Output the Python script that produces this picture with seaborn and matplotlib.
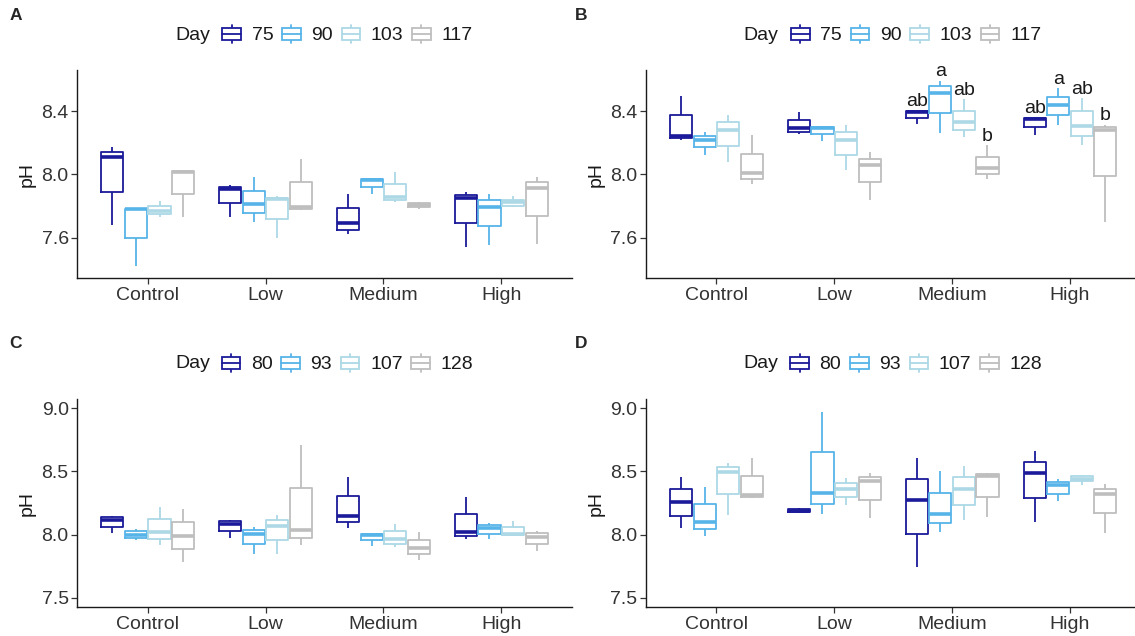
import numpy as np
import pandas as pd
import matplotlib
matplotlib.use("Agg")
import matplotlib.pyplot as plt
import seaborn as sns
from matplotlib.legend_handler import HandlerBase
from matplotlib.patches import Rectangle
from matplotlib.lines import Line2D

# ---------------- data (each box: [min, q1, median, q3, max]) ----------------
TREATMENTS = ["Control", "Low", "Medium", "High"]
DAYS_AB = ["75", "90", "103", "117"]
DAYS_CD = ["80", "93", "107", "128"]

A_75 = [[7.68, 7.89, 8.112, 8.143, 8.175], [7.73, 7.82, 7.91, 7.922, 7.93],
        [7.62, 7.65, 7.69, 7.785, 7.876], [7.54, 7.695, 7.85, 7.87, 7.886]]
A_90 = [[7.42, 7.598, 7.778, 7.78, 7.782], [7.70, 7.754, 7.81, 7.897, 7.985],
        [7.874, 7.918, 7.964, 7.97, 7.975], [7.55, 7.672, 7.796, 7.84, 7.876]]
A_103 = [[7.73, 7.747, 7.77, 7.80, 7.834], [7.598, 7.718, 7.844, 7.853, 7.863],
         [7.825, 7.838, 7.859, 7.94, 8.017], [7.79, 7.80, 7.825, 7.838, 7.863]]
A_117 = [[7.73, 7.874, 8.015, 8.023, 8.025], [7.775, 7.78, 7.796, 7.95, 8.095],
         [7.783, 7.794, 7.806, 7.817, 7.825], [7.56, 7.737, 7.916, 7.954, 7.985]]

B_75 = [[8.22, 8.232, 8.244, 8.373, 8.495], [8.253, 8.265, 8.29, 8.343, 8.394],
        [8.32, 8.356, 8.392, 8.40, 8.402], [8.25, 8.297, 8.35, 8.354, 8.356]]
B_90 = [[8.12, 8.173, 8.22, 8.244, 8.265], [8.208, 8.253, 8.295, 8.30, 8.302],
        [8.26, 8.387, 8.516, 8.558, 8.592], [8.31, 8.373, 8.436, 8.49, 8.543]]
B_103 = [[8.078, 8.177, 8.28, 8.328, 8.373], [8.03, 8.124, 8.217, 8.267, 8.314],
         [8.234, 8.28, 8.33, 8.402, 8.474], [8.183, 8.244, 8.307, 8.398, 8.48]]
B_117 = [[7.94, 7.97, 8.01, 8.128, 8.246], [7.84, 7.95, 8.059, 8.10, 8.143],
         [7.97, 8.004, 8.042, 8.11, 8.183], [7.70, 7.99, 8.278, 8.30, 8.314]]

C_80 = [[8.01, 8.063, 8.119, 8.138, 8.146], [7.97, 8.026, 8.087, 8.106, 8.114],
        [8.053, 8.10, 8.15, 8.304, 8.458], [7.968, 7.992, 8.024, 8.161, 8.30]]
C_93 = [[7.955, 7.974, 8.0, 8.026, 8.045], [7.85, 7.926, 8.008, 8.037, 8.06],
        [7.91, 7.955, 7.997, 8.008, 8.013], [7.963, 8.008, 8.053, 8.077, 8.09]]
C_107 = [[7.92, 7.968, 8.024, 8.122, 8.217], [7.85, 7.958, 8.071, 8.114, 8.156],
         [7.902, 7.929, 7.966, 8.026, 8.087], [8.0, 8.0, 8.005, 8.058, 8.106]]
C_128 = [[7.78, 7.884, 7.99, 8.10, 8.206], [7.918, 7.974, 8.034, 8.37, 8.712],
         [7.80, 7.847, 7.897, 7.958, 8.018], [7.873, 7.926, 7.984, 8.01, 8.026]]

D_80 = [[8.05, 8.151, 8.257, 8.357, 8.458], [8.17, 8.178, 8.19, 8.202, 8.212],
        [7.74, 8.003, 8.27, 8.444, 8.608], [8.103, 8.288, 8.484, 8.574, 8.661]]
D_93 = [[7.992, 8.045, 8.103, 8.241, 8.378], [8.159, 8.246, 8.333, 8.653, 8.97],
        [8.021, 8.09, 8.161, 8.333, 8.5], [8.262, 8.32, 8.389, 8.413, 8.437]]
D_107 = [[8.153, 8.323, 8.497, 8.532, 8.563], [8.233, 8.294, 8.362, 8.405, 8.447],
         [8.114, 8.233, 8.362, 8.452, 8.54], [8.394, 8.423, 8.442, 8.466, 8.471]]
D_128 = [[8.29, 8.30, 8.315, 8.46, 8.608], [8.13, 8.275, 8.423, 8.458, 8.489],
         [8.14, 8.30, 8.463, 8.476, 8.484], [8.013, 8.167, 8.323, 8.36, 8.397]]

LETTER_GROUPS_B = ["Medium", "High"]
LETTERS_B_MEDIUM = ["ab", "a", "ab", "b"]
LETTERS_B_HIGH = ["ab", "a", "ab", "b"]

YTICKS_AB = [7.6, 8.0, 8.4]
YTICKS_CD = [7.5, 8.0, 8.5, 9.0]

COLORS = ["#1a1a9a", "#56B4E9", "#ADD8E6", "#BEBEBE"]

# ---------------- styling ----------------
sns.set_style("ticks")
plt.rcParams["font.family"] = ["Liberation Sans", "DejaVu Sans"]

W, H = 1135, 636
fig = plt.figure(figsize=(W / 100, H / 100), dpi=100)


def make_df(days, series):
    rows = []
    for day, boxes in zip(days, series):
        for trt, vals in zip(TREATMENTS, boxes):
            for v in vals:
                rows.append((trt, day, v))
    return pd.DataFrame(rows, columns=["Treatment", "Day", "pH"])


class BoxHandler(HandlerBase):
    def create_artists(self, legend, orig_handle, xdescent, ydescent,
                       width, height, fontsize, trans):
        c = orig_handle.get_color()
        x0, y0 = -xdescent, -ydescent
        lw = 1.3
        rect = Rectangle((x0, y0 + 0.12 * height), width, 0.76 * height,
                         facecolor="white", edgecolor=c, linewidth=lw, transform=trans)
        med = Line2D([x0, x0 + width], [y0 + 0.5 * height] * 2, color=c, lw=lw, transform=trans)
        wt = Line2D([x0 + width / 2] * 2, [y0 + 0.88 * height, y0 + 1.05 * height], color=c, lw=lw, transform=trans)
        wb = Line2D([x0 + width / 2] * 2, [y0 - 0.05 * height, y0 + 0.12 * height], color=c, lw=lw, transform=trans)
        return [wt, wb, rect, med]


def px_rect(left, top, right, bottom):
    return [left / W, 1 - bottom / H, (right - left) / W, (bottom - top) / H]


panels = [
    ("A", DAYS_AB, [A_75, A_90, A_103, A_117], px_rect(77, 70, 572, 278.3), (7.342, 8.66), YTICKS_AB, 35, (16, 15)),
    ("B", DAYS_AB, [B_75, B_90, B_103, B_117], px_rect(645.7, 70, 1140.7, 278.3), (7.342, 8.66), YTICKS_AB, 35, (581, 15)),
    ("C", DAYS_CD, [C_80, C_93, C_107, C_128], px_rect(77, 398.7, 572, 607.3), (7.424, 9.076), YTICKS_CD, 364, (16, 343)),
    ("D", DAYS_CD, [D_80, D_93, D_107, D_128], px_rect(645.7, 398.7, 1140.7, 607.3), (7.424, 9.076), YTICKS_CD, 364, (581, 343)),
]

for name, days, series, rect, ylim, yticks, leg_y, tag_xy in panels:
    ax = fig.add_axes(rect)
    df = make_df(days, series)
    sns.boxplot(data=df, x="Treatment", y="pH", hue="Day", order=TREATMENTS,
                hue_order=days, palette=COLORS, saturation=1, fill=False,
                width=0.8, gap=0.0625, whis=(0, 100), showcaps=False,
                linewidth=1.3, legend=False, medianprops=dict(linewidth=2.6),
                ax=ax)
    ax.set_xlim(-0.6, 3.6)
    ax.set_ylim(*ylim)
    ax.set_yticks(yticks)
    ax.set_yticklabels([f"{t:.1f}" for t in yticks])
    ax.set_xlabel("")
    ax.set_ylabel("pH", fontsize=14, color="#1a1a1a", labelpad=4)
    ax.tick_params(axis="both", labelsize=14, labelcolor="#333333", color="#333333",
                   length=4, width=0.9, pad=2)
    sns.despine(ax=ax)
    for s in ["left", "bottom"]:
        ax.spines[s].set_color("#1a1a1a")
        ax.spines[s].set_linewidth(1.0)

    if name == "B":
        for grp, letters in zip(LETTER_GROUPS_B, [LETTERS_B_MEDIUM, LETTERS_B_HIGH]):
            i = TREATMENTS.index(grp)
            for j, lab in enumerate(letters):
                top = max(series[j][i])
                ax.text(i + (j - 1.5) * 0.2, top + 0.03, lab, ha="center",
                        va="baseline", fontsize=14, color="#1a1a1a")

    # panel tag
    fig.text(tag_xy[0] / W, 1 - tag_xy[1] / H, name, fontsize=12.5, fontweight="bold",
             ha="center", va="center")

    # legend
    left_px = rect[0] * W
    center_px = left_px + 495 / 2
    handles = [Line2D([], [], color=c) for c in COLORS]
    fig.legend(handles, days, loc="center", ncols=4, frameon=False,
               bbox_to_anchor=((center_px + 23) / W, 1 - leg_y / H),
               handler_map={Line2D: BoxHandler()}, handlelength=0.95,
               handleheight=0.9, handletextpad=0.55, columnspacing=0.45,
               fontsize=14, borderpad=0, labelcolor="#1a1a1a")
    fig.text((center_px - 132) / W, 1 - leg_y / H, "Day", fontsize=14,
             ha="center", va="center", color="#1a1a1a")

fig.savefig("out.png", dpi=100)
